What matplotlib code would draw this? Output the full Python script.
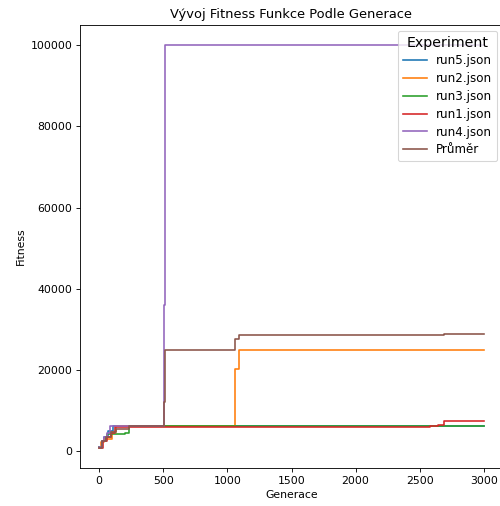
import matplotlib
matplotlib.use("Agg")
import matplotlib.pyplot as plt

# step breakpoints (generation, fitness)
run5_gen = [0, 20, 40, 70, 110, 3000]
run5_fit = [900, 2500, 3500, 5000, 6100, 6100]

run2_gen = [0, 15, 40, 70, 100, 130, 1058, 1090, 1900, 3000]
run2_fit = [900, 2200, 3000, 3000, 4800, 6100, 20300, 24900, 25000, 25000]

run3_gen = [0, 20, 50, 60, 200, 236, 3000]
run3_fit = [900, 2500, 3500, 4100, 4400, 6250, 6250]

run1_gen = [0, 30, 60, 90, 120, 2520, 2580, 2640, 2690, 3000]
run1_fit = [800, 2500, 3500, 4500, 6000, 6000, 6200, 6500, 7300, 7300]

run4_gen = [0, 20, 40, 60, 85, 505, 512, 3000]
run4_fit = [900, 2500, 3500, 4500, 6100, 36000, 100000, 100000]

mean_gen = [0, 20, 50, 90, 130, 236, 505, 512, 1058, 1090, 2520, 2690, 3000]
mean_fit = [880, 2440, 3400, 4600, 5400, 6100, 12100, 24900, 27600, 28650, 28700, 28900, 28900]

series = [
    ("run5.json", run5_gen, run5_fit),
    ("run2.json", run2_gen, run2_fit),
    ("run3.json", run3_gen, run3_fit),
    ("run1.json", run1_gen, run1_fit),
    ("run4.json", run4_gen, run4_fit),
    ("Průměr", mean_gen, mean_fit),
]

# drawn larger and scaled down in the reference -> dpi 78
fig = plt.figure(figsize=(500 / 78, 506 / 78), dpi=78)
ax = fig.add_axes([0.16, 0.0751, 0.846, 0.8755])

for name, g, f in series:
    ax.plot(g, f, drawstyle="steps-post", label=name)

ax.set_title("Vývoj Fitness Funkce Podle Generace")
ax.set_xlabel("Generace")
ax.set_ylabel("Fitness")
ax.set_xticks([0, 500, 1000, 1500, 2000, 2500, 3000])
ax.legend(title="Experiment", title_fontsize=13, fontsize=11,
          labelspacing=0.4, loc="upper right")

fig.savefig("out.png", dpi=78)
